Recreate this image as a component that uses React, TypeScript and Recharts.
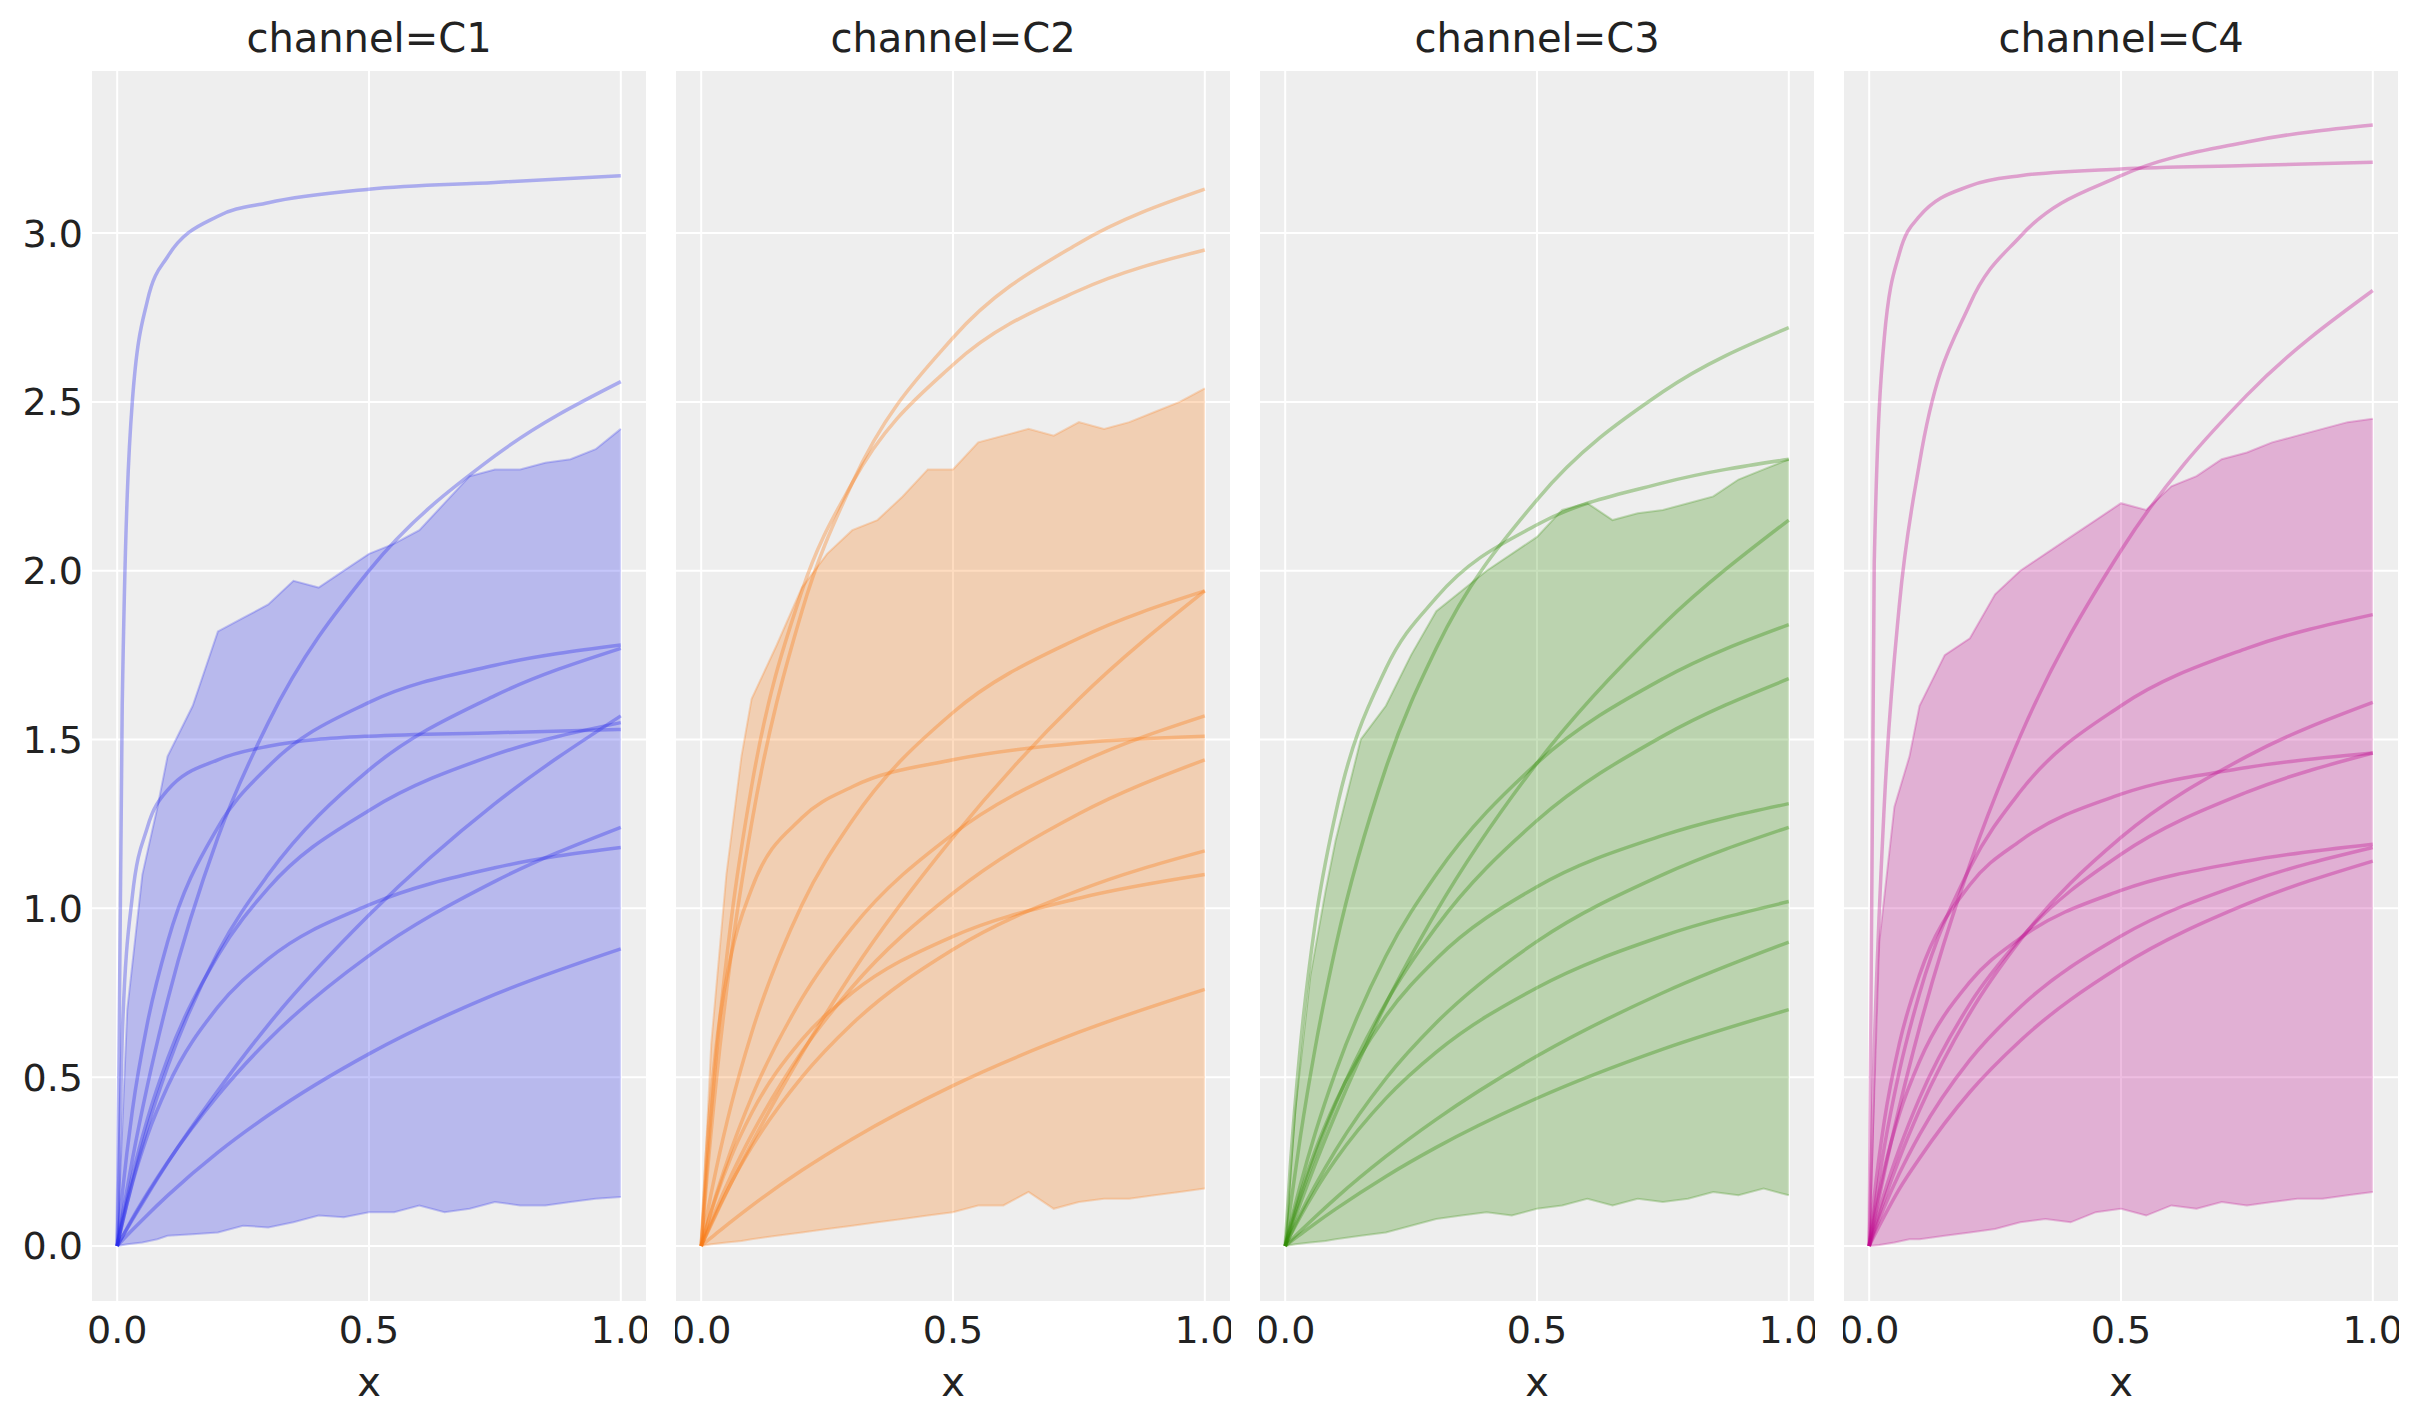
import React from "react";
import { ComposedChart, Line, Area, XAxis, YAxis, CartesianGrid } from "recharts";

const curveX = [0, 0.01, 0.03, 0.06, 0.1, 0.2, 0.3, 0.5, 0.75, 1.0];
const bandX = [0, 0.02, 0.05, 0.08, 0.1, 0.15, 0.2, 0.25, 0.3, 0.35, 0.4, 0.45, 0.5, 0.55, 0.6, 0.65, 0.7, 0.75, 0.8, 0.85, 0.9, 0.95, 1.0];
const yTicks = [0, 0.5, 1, 1.5, 2, 2.5, 3];
const xTicks = [0, 0.5, 1];

const c1Curves = [
  [0, 1.6, 2.5, 2.8, 2.93, 3.05, 3.09, 3.13, 3.15, 3.17],
  [0, 0.089, 0.255, 0.475, 0.727, 1.21, 1.55, 2.0, 2.34, 2.56],
  [0, 0.153, 0.4, 0.66, 0.9, 1.24, 1.42, 1.61, 1.72, 1.78],
  [0, 0.066, 0.189, 0.35, 0.53, 0.87, 1.1, 1.41, 1.63, 1.77],
  [0, 0.62, 1.035, 1.24, 1.35, 1.44, 1.48, 1.51, 1.52, 1.53],
  [0, 0.026, 0.077, 0.151, 0.246, 0.46, 0.655, 0.98, 1.31, 1.57],
  [0, 0.075, 0.208, 0.375, 0.554, 0.86, 1.06, 1.29, 1.455, 1.55],
  [0, 0.027, 0.081, 0.156, 0.248, 0.446, 0.61, 0.86, 1.08, 1.24],
  [0, 0.067, 0.185, 0.327, 0.472, 0.708, 0.85, 1.01, 1.12, 1.18],
  [0, 0.016, 0.047, 0.092, 0.149, 0.277, 0.387, 0.569, 0.745, 0.88],
];
const c2Curves = [
  [0, 0.179, 0.49, 0.868, 1.25, 1.88, 2.26, 2.69, 2.97, 3.13],
  [0, 0.21, 0.565, 0.97, 1.36, 1.94, 2.26, 2.61, 2.83, 2.95],
  [0, 0.081, 0.229, 0.42, 0.63, 1.01, 1.26, 1.58, 1.8, 1.94],
  [0, 0.032, 0.095, 0.187, 0.303, 0.57, 0.81, 1.21, 1.62, 1.94],
  [0, 0.054, 0.153, 0.287, 0.44, 0.733, 0.943, 1.22, 1.43, 1.57],
  [0, 0.264, 0.594, 0.865, 1.057, 1.268, 1.36, 1.44, 1.49, 1.51],
  [0, 0.038, 0.11, 0.21, 0.329, 0.575, 0.767, 1.045, 1.28, 1.44],
  [0, 0.034, 0.099, 0.188, 0.2925, 0.5, 0.658, 0.878, 1.053, 1.17],
  [0, 0.053, 0.147, 0.266, 0.393, 0.611, 0.75, 0.917, 1.03, 1.1],
  [0, 0.0126, 0.037, 0.073, 0.119, 0.224, 0.317, 0.475, 0.633, 0.76],
];
const c3Curves = [
  [0, 0.114, 0.322, 0.59, 0.885, 1.416, 1.77, 2.21, 2.53, 2.72],
  [0, 0.233, 0.59, 0.96, 1.28, 1.71, 1.92, 2.136, 2.26, 2.33],
  [0, 0.043, 0.125, 0.243, 0.39, 0.717, 0.99, 1.43, 1.84, 2.15],
  [0, 0.063, 0.18, 0.336, 0.515, 0.859, 1.1, 1.43, 1.68, 1.84],
  [0, 0.049, 0.143, 0.27, 0.42, 0.72, 0.945, 1.26, 1.51, 1.68],
  [0, 0.055, 0.155, 0.284, 0.426, 0.681, 0.85, 1.064, 1.216, 1.31],
  [0, 0.0325, 0.0945, 0.18, 0.283, 0.496, 0.661, 0.902, 1.1, 1.24],
  [0, 0.03, 0.0866, 0.164, 0.255, 0.437, 0.574, 0.765, 0.918, 1.02],
  [0, 0.0149, 0.044, 0.0865, 0.141, 0.265, 0.375, 0.5625, 0.75, 0.9],
  [0, 0.0116, 0.034, 0.067, 0.109, 0.206, 0.292, 0.4375, 0.583, 0.7],
];
const c4Curves = [
  [0, 2.02, 2.69, 2.94, 3.05, 3.14, 3.17, 3.19, 3.2, 3.21],
  [0, 0.58, 1.307, 1.9, 2.32, 2.79, 2.99, 3.17, 3.27, 3.32],
  [0, 0.074, 0.216, 0.412, 0.647, 1.13, 1.51, 2.06, 2.52, 2.83],
  [0, 0.107, 0.293, 0.518, 0.748, 1.12, 1.346, 1.6, 1.77, 1.87],
  [0, 0.047, 0.137, 0.259, 0.4025, 0.69, 0.906, 1.21, 1.45, 1.61],
  [0, 0.146, 0.37, 0.6, 0.803, 1.07, 1.2, 1.338, 1.417, 1.46],
  [0, 0.055, 0.156, 0.288, 0.438, 0.717, 0.91, 1.16, 1.344, 1.46],
  [0, 0.0855, 0.228, 0.391, 0.547, 0.782, 0.912, 1.053, 1.14, 1.19],
  [0, 0.04, 0.115, 0.215, 0.33, 0.551, 0.708, 0.918, 1.077, 1.18],
  [0, 0.03, 0.088, 0.169, 0.26, 0.456, 0.608, 0.829, 1.013, 1.14],
];

const c1Upper = [0, 0.7, 1.1, 1.3, 1.45, 1.6, 1.82, 1.86, 1.9, 1.97, 1.95, 2.0, 2.05, 2.08, 2.12, 2.2, 2.28, 2.3, 2.3, 2.32, 2.33, 2.36, 2.42];
const c1Lower = [0, 0.005, 0.01, 0.02, 0.03, 0.035, 0.04, 0.06, 0.055, 0.07, 0.09, 0.085, 0.1, 0.1, 0.12, 0.1, 0.11, 0.13, 0.12, 0.12, 0.13, 0.14, 0.145];
const c2Upper = [0, 0.6, 1.1, 1.45, 1.62, 1.78, 1.95, 2.05, 2.12, 2.15, 2.22, 2.3, 2.3, 2.38, 2.4, 2.42, 2.4, 2.44, 2.42, 2.44, 2.47, 2.5, 2.54];
const c2Lower = [0, 0.005, 0.01, 0.015, 0.02, 0.03, 0.04, 0.05, 0.06, 0.07, 0.08, 0.09, 0.1, 0.12, 0.12, 0.16, 0.11, 0.13, 0.14, 0.14, 0.15, 0.16, 0.17];
const c3Upper = [0, 0.4, 0.8, 1.05, 1.2, 1.5, 1.6, 1.75, 1.88, 1.94, 2.0, 2.05, 2.1, 2.18, 2.2, 2.15, 2.17, 2.18, 2.2, 2.22, 2.27, 2.3, 2.33];
const c3Lower = [0, 0.005, 0.01, 0.015, 0.02, 0.03, 0.04, 0.06, 0.08, 0.09, 0.1, 0.09, 0.11, 0.12, 0.14, 0.12, 0.14, 0.13, 0.14, 0.16, 0.15, 0.17, 0.15];
const c4Upper = [0, 0.9, 1.3, 1.45, 1.6, 1.75, 1.8, 1.93, 2.0, 2.05, 2.1, 2.15, 2.2, 2.18, 2.25, 2.28, 2.33, 2.35, 2.38, 2.4, 2.42, 2.44, 2.45];
const c4Lower = [0, 0.003, 0.01, 0.02, 0.02, 0.03, 0.04, 0.05, 0.07, 0.08, 0.07, 0.1, 0.11, 0.09, 0.12, 0.11, 0.13, 0.12, 0.13, 0.14, 0.14, 0.15, 0.16];

const panels = [
  { name: "C1", color: "#2a2eec", curves: c1Curves, upper: c1Upper, lower: c1Lower },
  { name: "C2", color: "#fa7c17", curves: c2Curves, upper: c2Upper, lower: c2Lower },
  { name: "C3", color: "#328c06", curves: c3Curves, upper: c3Upper, lower: c3Lower },
  { name: "C4", color: "#c10c90", curves: c4Curves, upper: c4Upper, lower: c4Lower },
];

const FONT = "DejaVu Sans, sans-serif";
const PANEL_W = 556;
const PANEL_STEP = 584;
const FIRST_LEFT = 91;
const TOP = 70;
const BOTTOM = 1302;

function Panel({ p, idx }: { p: (typeof panels)[number]; idx: number }) {
  const yw = idx === 0 ? FIRST_LEFT : 0;
  const left = FIRST_LEFT + idx * PANEL_STEP - yw;
  const band = bandX.map((x, i) => ({ x, range: [p.lower[i], p.upper[i]] }));
  return (
    <div style={{ position: "absolute", left, top: 0 }}>
      <ComposedChart
        width={yw + PANEL_W}
        height={1423}
        margin={{ top: TOP, right: 0, left: 0, bottom: 0 }}
        style={{ overflow: "visible" }}
      >
        <CartesianGrid fill="#eeeeee" stroke="#ffffff" strokeWidth={2} />
        <XAxis
          type="number"
          dataKey="x"
          domain={[-0.052, 1.052]}
          ticks={xTicks}
          tickFormatter={(v: number) => v.toFixed(1)}
          axisLine={false}
          tickLine={false}
          height={1423 - BOTTOM}
          tick={{ fontSize: 38, fill: "#222", fontFamily: FONT }}
          tickMargin={8}
          interval={0}
          allowDataOverflow
        />
        <YAxis
          type="number"
          domain={[-0.166, 3.483]}
          ticks={yTicks}
          tickFormatter={(v: number) => v.toFixed(1)}
          axisLine={false}
          tickLine={false}
          width={yw}
          hide={idx !== 0}
          tick={{ fontSize: 38, fill: "#222", fontFamily: FONT }}
          allowDataOverflow
        />
        <Area
          data={band}
          dataKey="range"
          type="linear"
          fill={p.color}
          fillOpacity={0.27}
          stroke={p.color}
          strokeOpacity={0.25}
          strokeWidth={2}
          isAnimationActive={false}
        />
        {p.curves.map((c, ci) => (
          <Line
            key={ci}
            data={curveX.map((x, i) => ({ x, y: c[i] }))}
            dataKey="y"
            type="monotone"
            stroke={p.color}
            strokeOpacity={0.35}
            strokeWidth={3.5}
            dot={false}
            isAnimationActive={false}
          />
        ))}
      </ComposedChart>
      <div
        style={{
          position: "absolute",
          left: yw,
          width: PANEL_W,
          top: 14,
          textAlign: "center",
          fontFamily: FONT,
          fontSize: 40,
          color: "#222",
          lineHeight: "48px",
        }}
      >
        channel={p.name}
      </div>
      <div
        style={{
          position: "absolute",
          left: yw,
          width: PANEL_W,
          top: 1358,
          textAlign: "center",
          fontFamily: FONT,
          fontSize: 40,
          color: "#222",
          lineHeight: "48px",
        }}
      >
        x
      </div>
    </div>
  );
}

export default function App() {
  return (
    <div style={{ position: "absolute", left: 0, top: 0, width: 2423, height: 1423, background: "#fff" }}>
      {panels.map((p, i) => (
        <Panel key={p.name} p={p} idx={i} />
      ))}
    </div>
  );
}
